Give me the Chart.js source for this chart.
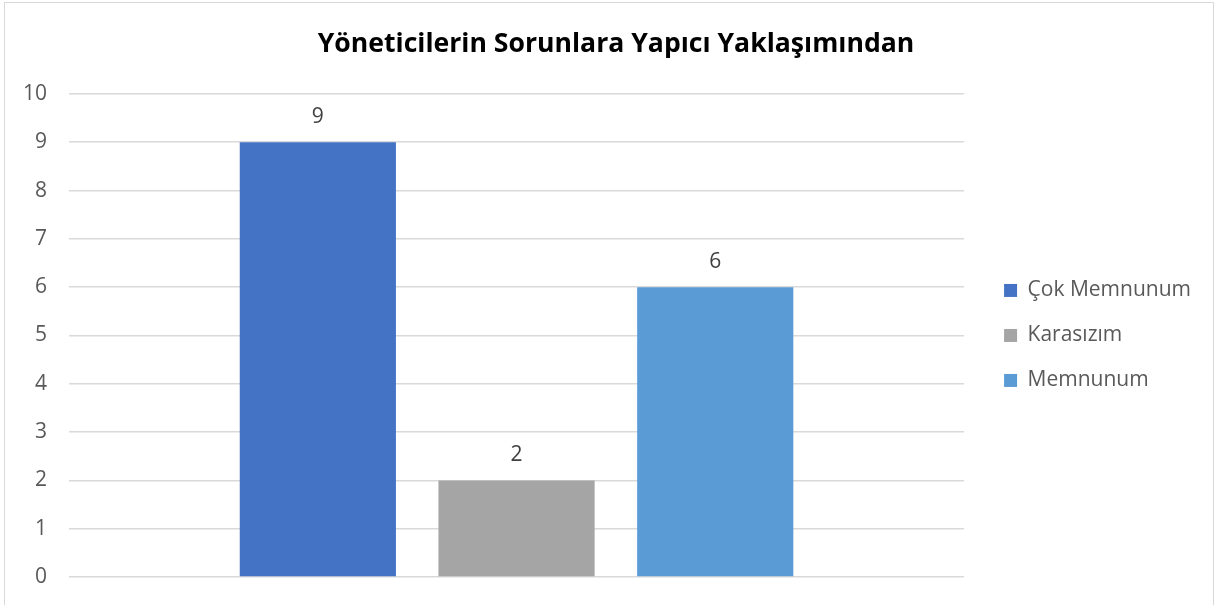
<!DOCTYPE html>
<html>
<head>
<meta charset="utf-8">
<script src="https://cdn.jsdelivr.net/npm/chart.js@4.4.1/dist/chart.umd.min.js"></script>
<style>
  html, body { margin: 0; padding: 0; background: #ffffff; }
  #wrap { position: relative; width: 1215px; height: 605px; }
</style>
</head>
<body>
<div id="wrap"><canvas id="c"></canvas></div>
<script>
const chartTitle = "Yöneticilerin Sorunlara Yapıcı Yaklaşımından";
const categories = [""];
const seriesNames = ["Çok Memnunum", "Karasızım", "Memnunum"];
const seriesValues = [[9], [2], [6]];
const seriesColors = ["#4472C4", "#A5A5A5", "#5B9BD5"];
const yTicks = [0, 1, 2, 3, 4, 5, 6, 7, 8, 9, 10];

const FONT = "'Open Sans', 'Noto Sans', sans-serif";

const frame = {
  id: 'frame',
  beforeDraw(chart) {
    const ctx = chart.ctx;
    ctx.save();
    ctx.fillStyle = '#ffffff';
    ctx.fillRect(0, 0, chart.width, chart.height);
    ctx.strokeStyle = '#d9d9d9';
    ctx.lineWidth = 1;
    ctx.strokeRect(4.5, 2.5, 1209, 640);
    ctx.restore();
  }
};

const shiftBoxes = {
  id: 'shiftBoxes',
  afterLayout(chart) {
    const lg = chart.legend;
    if (lg) { lg.left += 16; lg.right += 16; }
    const tb = chart.titleBlock;
    if (tb) { tb.left += 23; tb.right += 23; }
  }
};

const valueLabels = {
  id: 'valueLabels',
  afterDatasetsDraw(chart) {
    const ctx = chart.ctx;
    ctx.save();
    ctx.font = "21px " + FONT;
    ctx.fillStyle = '#404040';
    ctx.textAlign = 'center';
    ctx.textBaseline = 'middle';
    chart.data.datasets.forEach((ds, i) => {
      const meta = chart.getDatasetMeta(i);
      meta.data.forEach((bar, j) => {
        ctx.fillText(String(ds.data[j]), bar.x, bar.y - 25);
      });
    });
    ctx.restore();
  }
};

new Chart(document.getElementById('c'), {
  type: 'bar',
  data: {
    labels: categories,
    datasets: seriesNames.map((n, i) => ({
      label: n,
      data: seriesValues[i],
      backgroundColor: seriesColors[i],
      borderWidth: 0,
      categoryPercentage: 0.666,
      barPercentage: 0.786
    }))
  },
  options: {
    responsive: true,
    maintainAspectRatio: false,
    animation: false,
    devicePixelRatio: 1,
    layout: { padding: { left: 1, right: 30, top: 14, bottom: 28 } },
    plugins: {
      title: {
        display: true,
        text: chartTitle,
        color: '#000000',
        font: { family: FONT, size: 26.6, weight: 'bold' },
        padding: { top: 14, bottom: 34 }
      },
      legend: {
        position: 'right',
        align: 'center',
        fullSize: false,
        labels: {
          boxWidth: 13,
          boxHeight: 13,
          padding: 24,
          color: '#595959',
          font: { family: FONT, size: 21 }
        }
      },
      tooltip: { enabled: false }
    },
    scales: {
      x: {
        display: false,
        grid: { display: false }
      },
      y: {
        min: 0,
        max: 10,
        afterBuildTicks(scale) { scale.ticks = yTicks.map(v => ({ value: v })); },
        afterFit(scale) { scale.paddingTop = 13; scale.paddingBottom = 13; },
        border: { display: false },
        grid: { color: '#d9d9d9', lineWidth: 1.5, drawTicks: false },
        ticks: {
          color: '#595959',
          padding: 22,
          font: { family: FONT, size: 21 }
        }
      }
    }
  },
  plugins: [frame, shiftBoxes, valueLabels]
});
</script>
</body>
</html>
